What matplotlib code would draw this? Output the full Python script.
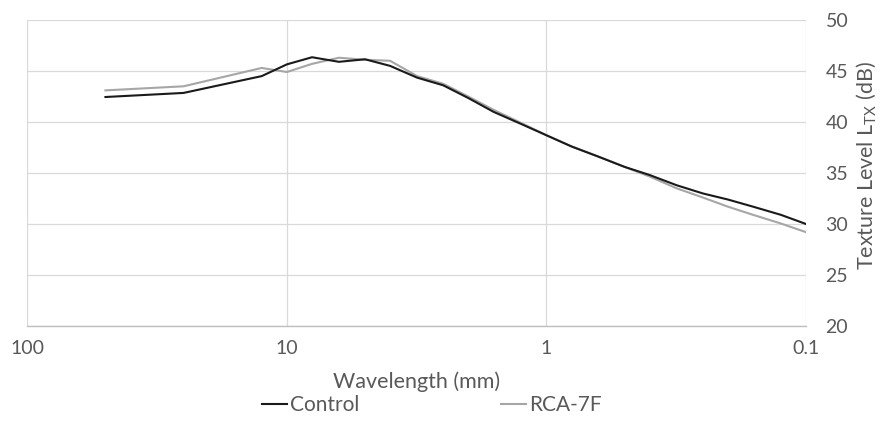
import matplotlib
matplotlib.use("Agg")
import matplotlib.pyplot as plt
from matplotlib.ticker import FixedLocator, FixedFormatter, NullLocator

plt.rcParams['font.family'] = ['Lato', 'DejaVu Sans']
plt.rcParams['mathtext.fontset'] = 'custom'
plt.rcParams['mathtext.rm'] = 'Lato'

wavelengths = [50, 25, 12.5, 10, 8, 6.3, 5, 4, 3.15, 2.5, 2, 1.6, 1.25, 1,
               0.8, 0.63, 0.5, 0.4, 0.315, 0.25, 0.2, 0.16, 0.125, 0.1]
control = [42.45, 42.85, 44.5, 45.65, 46.35, 45.9, 46.15, 45.5, 44.35, 43.6,
           42.35, 41.0, 39.8, 38.7, 37.6, 36.6, 35.6, 34.8, 33.8, 33.0,
           32.4, 31.7, 30.9, 30.0]
rca7f = [43.1, 43.5, 45.3, 44.9, 45.7, 46.3, 46.1, 46.0, 44.5, 43.75,
         42.5, 41.2, 39.9, 38.7, 37.6, 36.6, 35.6, 34.65, 33.5, 32.6,
         31.7, 30.9, 30.05, 29.2]
x_ticks = [100, 10, 1, 0.1]
x_tick_labels = ["100", "10", "1", "0.1"]
y_ticks = [20, 25, 30, 35, 40, 45, 50]

text_color = "#595959"

fig = plt.figure(figsize=(8.83, 4.34), dpi=100)
ax = fig.add_axes([27.3 / 883, 1 - 326 / 434, (806 - 27.3) / 883, (326 - 20) / 434])

ax.plot(wavelengths, control, color="#1a1a1a", lw=1.5, label="Control", zorder=3)
ax.plot(wavelengths, rca7f, color="#a6a6a6", lw=1.5, label="RCA-7F", zorder=2)

ax.set_xscale("log")
ax.set_xlim(100, 0.1)
ax.set_ylim(20, 50)
ax.xaxis.set_major_locator(FixedLocator(x_ticks))
ax.xaxis.set_major_formatter(FixedFormatter(x_tick_labels))
ax.xaxis.set_minor_locator(NullLocator())
ax.yaxis.set_major_locator(FixedLocator(y_ticks))
ax.yaxis.tick_right()
ax.yaxis.set_label_position("right")

ax.grid(True, color="#d9d9d9", lw=0.9)
ax.set_axisbelow(True)
for s in ["left", "right", "top"]:
    ax.spines[s].set_visible(False)
ax.spines["bottom"].set_color("#bfbfbf")
ax.spines["bottom"].set_linewidth(1.0)

ax.tick_params(axis="both", length=0, labelsize=14, colors=text_color)
ax.tick_params(axis="x", pad=10)
ax.tick_params(axis="y", pad=14)

ax.set_xlabel("Wavelength (mm)", fontsize=15.5, color=text_color)
ax.xaxis.set_label_coords(0.5, -0.15)
ax.set_ylabel(r"Texture Level L$_{\mathregular{TX}}$ (dB)", fontsize=15.5,
              color=text_color)
ax.yaxis.set_label_coords(1.063, 0.525)

fig.legend(loc="center", bbox_to_anchor=(432 / 883, 1 - 405 / 434), ncol=2,
           frameon=False, fontsize=15, labelcolor=text_color,
           handlelength=1.2, handletextpad=0.15, columnspacing=6.8)

fig.savefig("out.png", dpi=100)
